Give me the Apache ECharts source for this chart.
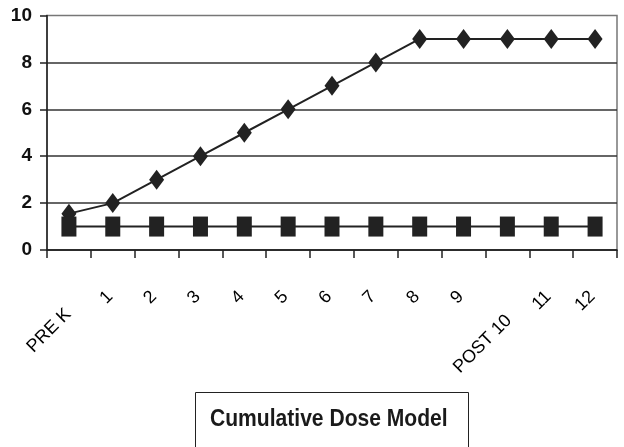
<!DOCTYPE html>
<html>
<head>
<meta charset="utf-8">
<script src="https://cdn.jsdelivr.net/npm/echarts@6/dist/echarts.min.js"></script>
<style>
html,body{margin:0;padding:0;background:#fff;}
#chart{width:624px;height:447px;}
</style>
</head>
<body>
<div id="chart"></div>
<script>
var categories = ['PRE K', '1', '2', '3', '4', '5', '6', '7', '8', '9', 'POST 10', '11', '12'];
var cumulativeDose = [1.55, 2, 3, 4, 5, 6, 7, 8, 9, 9, 9, 9, 9];
var baseline = [1, 1, 1, 1, 1, 1, 1, 1, 1, 1, 1, 1, 1];
var yTicks = [0, 2, 4, 6, 8, 10];
var titleText = 'Cumulative Dose Model';

var FONT = '"Liberation Sans", Arial, sans-serif';
var chart = echarts.init(document.getElementById('chart'), null, {renderer: 'canvas'});

function labelFormatter(v) {
  if (v === 'PRE K') return '{s1| }\n{t|' + v + '}{g2| }';
  if (v === 'POST 10') return '{s2| }\n{t|' + v + '}{g3| }';
  return '{t|' + v + '}{g1| }';
}

chart.setOption({
  animation: false,
  backgroundColor: '#fff',
  grid: {
    left: 47, right: 7, top: 15.5, bottom: 197,
    show: true, borderColor: '#777', borderWidth: 1.5, backgroundColor: 'transparent'
  },
  graphic: [
    {
      type: 'rect',
      shape: {x: 195.5, y: 392.5, width: 273, height: 80},
      style: {fill: '#fff', stroke: '#222', lineWidth: 1}
    },
    {
      type: 'text',
      x: 210, y: 419,
      scaleX: 0.878,
      style: {
        text: titleText,
        font: 'bold 24px "Liberation Sans", Arial, sans-serif',
        fill: '#1a1a1a',
        align: 'left',
        verticalAlign: 'middle'
      }
    }
  ],
  xAxis: {
    type: 'category',
    data: categories,
    boundaryGap: true,
    axisLine: {lineStyle: {color: '#222', width: 1.5}},
    axisTick: {show: true, length: 8, lineStyle: {color: '#222', width: 1.5}, alignWithLabel: false},
    axisLabel: {
      rotate: 45, margin: 41, interval: 0,
      fontFamily: FONT, fontSize: 18, color: '#000',
      formatter: labelFormatter,
      rich: {
        t: {fontFamily: FONT, fontSize: 18, color: '#000', lineHeight: 20},
        s1: {fontSize: 10, lineHeight: 28},
        s2: {fontSize: 10, lineHeight: 40},
        g1: {fontSize: 10, width: 4},
        g2: {fontSize: 10, width: 15},
        g3: {fontSize: 10, width: 18}
      }
    },
    splitLine: {show: false}
  },
  yAxis: {
    type: 'value',
    min: yTicks[0], max: yTicks[yTicks.length - 1], interval: 2,
    axisLine: {show: true, lineStyle: {color: '#222', width: 1.5}},
    axisTick: {show: true, length: 7, lineStyle: {color: '#222', width: 1.5}},
    axisLabel: {margin: 15, fontFamily: FONT, fontSize: 19, fontWeight: 'bold', color: '#111'},
    splitLine: {show: true, showMaxLine: false, lineStyle: {color: '#333', width: 1.5}}
  },
  series: [
    {
      type: 'line',
      data: cumulativeDose,
      symbol: 'diamond',
      symbolSize: [15, 20],
      lineStyle: {color: '#222', width: 2},
      itemStyle: {color: '#222'},
      z: 2
    },
    {
      type: 'line',
      data: baseline,
      symbol: 'rect',
      symbolSize: [15, 20],
      lineStyle: {color: '#222', width: 2},
      itemStyle: {color: '#222'},
      z: 3
    }
  ]
});
</script>
</body>
</html>
